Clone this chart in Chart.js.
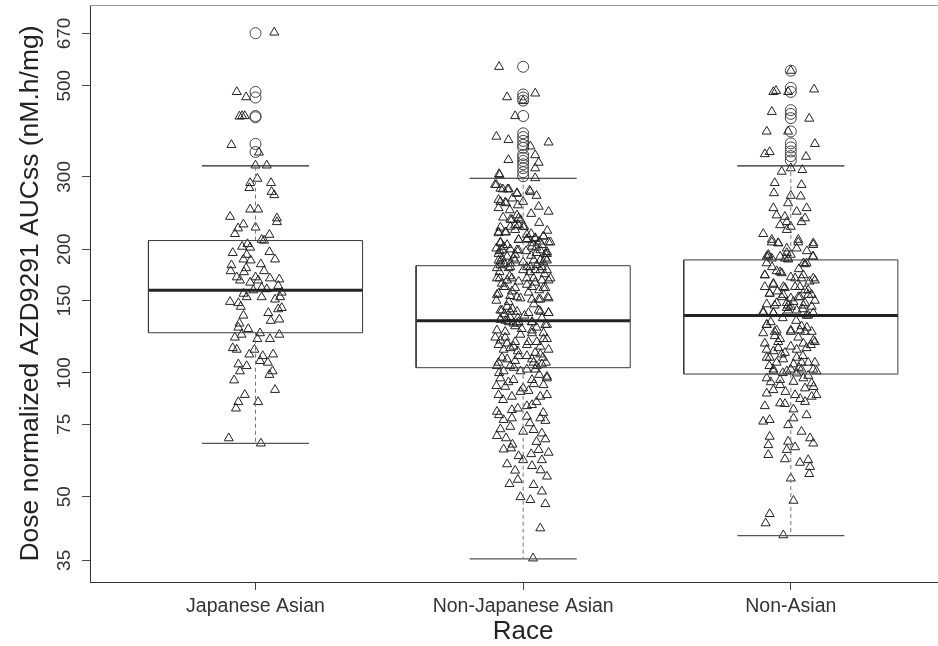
<!DOCTYPE html>
<html>
<head>
<meta charset="utf-8">
<title>AZD9291 AUCss by race</title>
<script src="https://cdn.jsdelivr.net/npm/chart.js@4.4.1/dist/chart.umd.min.js"></script>
<style>
  html, body { margin: 0; padding: 0; background: #ffffff; overflow: hidden; }
  #wrap { width: 938px; height: 646px; overflow: hidden; }
</style>
</head>
<body>
<div id="wrap"><canvas id="chart" width="938" height="646"></canvas></div>
<script>
// Groups on the x axis
const categories = ['Japanese Asian', 'Non-Japanese Asian', 'Non-Asian'];
// Log-axis tick values
const yTickValues = [35, 50, 75, 100, 150, 200, 300, 500, 670];

// Box-and-whisker summary per group (nM.h/mg)
const lowerWhisker = [67.4, 35.3, 40.2];
const quartile1    = [125.3, 103.0, 99.4];
const medians      = [158.9, 134.0, 137.9];
const quartile3    = [210.0, 182.4, 188.4];
const upperWhisker = [319.0, 297.7, 319.0];

// Values beyond the whiskers
const outliers = [
  [671, 483, 468, 422, 419, 361, 345],
  [556, 476, 468, 460, 422, 383, 375, 367, 359, 353, 339, 334, 328, 322, 315, 308, 301],
  [544, 494, 483, 436, 427, 417, 387, 362, 354, 346, 337, 329]
];

// Individual patients: [dose normalized AUCss, horizontal jitter]
const japaneseAsian = [
  [674,0.07],[483,-0.07],[469,-0.035],[421,-0.06],[422,-0.05],[422,-0.04],[359,-0.09],[344,0.013],[320,0],[320,0.042],
  [297,0.007],[290,-0.02],[290,0.058],[282,-0.023],[276,0.06],[271,0.07],[250,-0.02],[250,0.01],[240,-0.095],[238,0.08],
  [233,0.08],[230,-0.045],[225,-0.065],[226,0],[218,-0.077],[217,0.052],[211,0.023],[210,0.032],[206,-0.03],[203,-0.05],
  [202,-0.02],[196,-0.085],[197,0.052],[194,-0.033],[189,0.073],[189,-0.045],[188,-0.018],[183,-0.09],[184,0.02],[180,-0.035],
  [177,-0.093],[177,0.032],[176,-0.043],[171,-0.07],[171,0],[170,0.054],[169,0.089],[168,-0.058],[168,0.01],[166,-0.02],
  [163,0.085],[161,0.023],[160,0.042],[159,-0.008],[156,-0.045],[157,0.098],[153,-0.033],[153,0.023],[153,0.092],[149,-0.095],
  [148,-0.064],[151,0.073],[145,-0.055],[140,0.048],[143,0.085],[144,0.098],[138,-0.045],[134,0.057],[135,0.089],[132,-0.06],
  [129,-0.064],[128,-0.027],[124,0.089],[125,0.017],[122,-0.077],[124,-0.052],[121,0.054],[121,0.007],[115,-0.085],[114,-0.07],
  [114,-0.004],[111,-0.023],[110,0.027],[111,0.066],[106,0.046],[107,0.017],[105,-0.064],[104,-0.033],[101,0.064],[99,0.052],
  [101,-0.058],[96,-0.08],[91,0.073],[88.5,-0.04],[85,-0.064],[85,0.01],[82,-0.073],[69.4,-0.1],[67.4,0.02]
];

const nonJapaneseAsian = [
  [556,-0.09],[469,-0.06],[479,0.045],[459,0],[422,-0.03],[376,-0.1],[369,-0.055],[364,0.095],[356,0.027],[339,0.045],
  [330,-0.055],[325,0.058],[315,0.045],[305,-0.09],[298,0.045],[287,-0.105],[281,-0.085],[280,-0.058],[278,0.024],[273,-0.023],
  [264,-0.092],[259,-0.064],[252,-0.092],[261,0],[254,0.058],[247,0.095],[242,-0.023],[236,-0.042],[236,-0.01],[229,-0.017],
  [227,-0.048],[227,0],[219,-0.092],[220,-0.064],[223,-0.03],[217,0.014],[208,-0.085],[211,-0.017],[211,0.014],[212,0.045],
  [215,0.076],[208,0.095],[203,-0.073],[198,-0.088],[200,-0.048],[199,-0.017],[203,0.033],[199,0.064],[195,0.089],[190,-0.079],
  [188,-0.03],[188,0.04],[190,0.083],[183,-0.085],[181,-0.048],[181,0.014],[181,0.07],
  [195,-0.092],[194,-0.03],[195,0.083],[187,-0.085],[185,-0.048],[183,0.051],[188,0.089],[176,-0.088],[178,0],[178,0.064],
  [170,-0.098],[168,-0.06],[167,-0.017],[170,0.039],[168,0.095],[162,-0.073],[164,0.014],[161,0.076],[156,-0.092],[158,-0.042],
  [153,-0.023],[151,0.033],[151,0.064],[152,0.095],[149,-0.054],[142,-0.085],[141,-0.023],[142,0.058],[140,0.095],[135,-0.085],
  [133,-0.054],[132,-0.023],[133,0.033],[131,0.089],[127,-0.098],[126,-0.067],[127,0.033],[125,0.076],[120,-0.085],[119,-0.03],
  [119,0.051],[121,0.089],[115,-0.048],[114,-0.073],[110,0.014],[111,0.064],[106,-0.092],[107,-0.03],[106,0.039],[105,0.07],
  [101,-0.073],[101,-0.01],[102,0.045],[97.1,-0.085],[96.2,-0.036],[96.2,0.033],[97.1,0.089],[92.6,-0.067],[91.8,0],[93.5,0.076],
  [88.4,-0.092],[87.6,-0.042],[90,-0.01],[87.6,0.064],[88.4,0.089],[83.1,0.014],[83.6,0.033],[80.5,-0.098],[81.3,-0.042],[78.3,0.014],
  [76.9,-0.073],[77.6,-0.042],[77.6,0.064],[76.5,0.083],[74,-0.048],[72,0],[72.7,0.039],[71.3,0.07],[70.3,-0.098],[69.4,-0.064],
  [69,0.083],[65.2,-0.073],[65.6,-0.045],[62.8,-0.017],[61.4,0],[65,0.058],[64,0.095],[61.4,0.07],[59.4,0.033],[57.9,-0.03],
  [56,0.089],[53.7,-0.051],[53.4,0.039],[49.9,-0.01],[49.1,0.027],[48,0.083],[41.9,0.064],[35.4,0.037],
  [303,-0.088],[287,-0.1],[280,-0.076],[280,-0.054],[274,-0.023],[276,0.027],[261,-0.085],[260,-0.067],[236,-0.048],[238,-0.017],
  [229,-0.03],[227,0.004],[220,-0.092],[220,-0.067],[211,-0.017],[212,0.014],[213,0.045],[215,0.076],[208,0.102],[207,-0.085],
  [205,0.07],[207,0.033],[199,-0.079],[199,-0.023],[198,0.011],[202,0.049],[197,0.089],[188,-0.092],[190,-0.036],[186,0],
  [188,0.064],[180,-0.098],[180,-0.054],[181,0.027],[178,0.045],[178,0.089],[170,-0.088],[170,-0.042],[170,0.014],[168,0.07],
  [170,0.102],[162,-0.067],[161,-0.03],[162,0.033],[161,0.083],[155,-0.098],[154,-0.048],[152,-0.01],[151,0.058],[153,0.092],
  [142,-0.079],[141,-0.048],[140,0.02],[141,0.064],[140,0.095],[135,-0.085],[132,-0.036],[133,-0.017],[133,0.033],[131,0.083],
  [122,-0.104],[122,-0.067],[124,-0.01],[125,0.033],[121,0.076],[117,-0.092],[116,-0.036],[117,0.014],[116,0.064],[114,0.095],
  [109,-0.079],[110,-0.017],[108,0.033],[109,0.074],[104,-0.098],[104,-0.048],[102,0.014],[104,0.051],[98,0.089],
  [145,-0.06],[143,-0.04],[139,-0.07],[137,-0.05],[136,-0.02],[138,0.005],[134,-0.065],[130,-0.03],[128,-0.005],[129,0.05],
  [136,0.07],[147,0.04],[150,-0.1],[157,0.02],[159,0.06],[165,-0.08],[166,0.045],[172,-0.05],[174,0.08],[176,0.025],
  [184,-0.07],[186,0.075],[192,-0.06],[193,0.03],[196,0.05],[201,-0.1],[205,-0.06],[209,0.06],[218,0.03],[222,0.09],
  [226,-0.085],[232,0.06],[239,-0.075],[244,0.03],[249,-0.05],[256,-0.02],[266,-0.04],[270,0.05],[118,-0.06],[119,0.02],
  [113,-0.02],[112,0.045],[108,-0.06],[106,0.085],[103,-0.035],[100,-0.09],[99,0.06],[95,-0.055],[94,0.04],[93,-0.1],
  [90.5,0.02],[86,-0.075],[85,0.05],[82,-0.02],[80,0.075],[79,-0.09],[75.5,0.025],[73,-0.085],[68,0.05],[67,-0.04],
  [63.5,0.03],[60,-0.06],[58,0.065],[55,-0.02],[51.5,0.07]
];

const nonAsian = [
  [544,0],[483,-0.065],[486,-0.055],[483,-0.01],[490,0.087],[432,-0.071],[416,0.069],[387,-0.09],[387,-0.01],[361,0.09],
  [341,-0.097],[345,-0.079],[336,0.057],[309,-0.034],[312,0.043],[315,0],[290,-0.06],[287,0.04],[274,-0.063],[270,0],
  [269,0.037],[259,-0.01],[252,-0.065],[247,0.022],[252,0.059],[242,-0.053],[240,-0.022],[238,0.053],[233,-0.015],[229,-0.04],
  [227,0],[233,0.04],[218,-0.103],[208,-0.071],[207,-0.047],[208,0.028],[207,0.084],[223,-0.015],[192,-0.09],[190,-0.071],
  [192,-0.04],[190,-0.022],[194,0],[185,0.047],[192,0.084],
  [194,-0.084],[196,-0.015],[192,0.082],[185,-0.09],[189,-0.01],[184,0.053],[173,-0.097],[177,-0.053],[175,-0.034],[170,0.016],
  [173,0.047],[168,0.09],[162,-0.097],[165,-0.065],[161,-0.022],[162,0.034],[159,0.065],[156,-0.079],[155,-0.028],[153,0.028],
  [155,0.078],[148,-0.053],[146,-0.01],[149,0.01],[148,0.053],[141,-0.103],[140,-0.065],[144,-0.015],[142,0.022],[138,0.059],
  [140,0.084],[131,-0.09],[127,-0.053],[127,0],[130,0.04],[126,0.053],[125,-0.103],[121,-0.04],[122,0.028],[120,0.084],
  [114,-0.09],[115,-0.047],[112,-0.022],[114,0.022],[115,0.059],[109,-0.09],[106,-0.053],[108,-0.028],[105,0.01],[106,0.04],
  [106,0.09],[101,-0.065],[102,0],[99.8,0.022],[102,0.084],[97.1,-0.09],[96.2,-0.04],[95.2,0.01],[97.1,0.047],[94.4,0.078],
  [90.9,-0.065],[93.5,-0.04],[88.4,0.016],[91.8,0.053],[88.4,0.096],[89.2,-0.09],[87.6,0.078],[85.1,0.053],[83.1,-0.097],[84.4,-0.04],
  [84.1,-0.022],[81.6,0.01],[79,0.059],[76.2,-0.103],[76.9,-0.079],[74.7,-0.01],[77.6,0.01],[72,0.04],[69.4,0.072],[67.4,0.084],
  [70,-0.079],[66.8,-0.084],[68.1,-0.01],[66,0.016],[63.2,-0.084],[65,-0.015],[61.7,-0.022],[60.5,0.034],[61.4,0.065],[59.1,0.072],
  [56.8,0.069],[55.4,0],[48.9,0.01],[45.4,-0.079],[43.1,-0.094],[40.3,-0.028],
  [211,-0.071],[207,-0.047],[211,0.028],[205,0.084],[201,-0.015],[201,0.022],[192,-0.084],[190,-0.01],[185,0.059],[173,-0.097],
  [176,-0.04],[171,0],[170,0.04],[170,0.084],[164,-0.065],[162,-0.028],[162,0.016],[159,0.053],[156,-0.079],[153,-0.034],
  [152,0],[153,0.034],[155,0.065],[146,-0.06],[148,-0.015],[145,0],[146,0.047],[145,0.078],[140,-0.103],[140,-0.065],
  [142,-0.01],[138,0.065],[131,-0.09],[126,-0.06],[126,0],[127,0.034],[126,0.078],[118,-0.097],[119,-0.047],[116,0],
  [118,0.047],[119,0.09],[109,-0.079],[111,-0.034],[109,0.022],[106,0.065],[102,-0.065],[101,-0.015],[102,0.04],[101,0.096],
  [198,0.06],[181,-0.07],[179,0.03],[167,0.07],[158,-0.05],[150,0.09],[147,-0.09],[143,0.045],[136,-0.03],[134,0.02],
  [133,-0.075],[129,0.06],[123,-0.06],[117,0.075],[113,-0.065],[110,0.045],[104,-0.08],[103,0.03],[100,-0.03],[98.5,0.065],
  [95,-0.075],[92.5,0.085],[90,-0.02],[86.5,0.035]
];

const groups = [japaneseAsian, nonJapaneseAsian, nonAsian];
const xAxisTitle = 'Race';
const yAxisTitle = 'Dose normalized AZD9291 AUCss (nM.h/mg)';

const FONT = '"Liberation Sans", Arial, Helvetica, sans-serif';
const INK = '#222222';
// horizontal scale: pixels per category step, and room left of the first category
const CATEGORY_STEP_PX = 267.65;
const FIRST_CATEGORY_OFFSET_PX = 165.5;

function segment(x1, y1, x2, y2, style) {
  return Object.assign({
    type: 'scatter',
    data: [{ x: x1, y: y1 }, { x: x2, y: y2 }],
    showLine: true,
    pointRadius: 0,
    fill: false,
    tension: 0,
    order: 1
  }, style);
}

const datasets = [];
groups.forEach((points, g) => {
  const cx = g + 1;
  // jittered observations (open triangles)
  datasets.push({
    type: 'scatter',
    label: categories[g],
    data: points.map(([v, j]) => ({ x: cx + j, y: v })),
    pointStyle: 'triangle',
    pointRadius: 5.2,
    borderColor: INK,
    borderWidth: 1,
    backgroundColor: 'rgba(0,0,0,0)',
    order: 2
  });
  // boxplot outliers (open circles)
  datasets.push({
    type: 'scatter',
    data: outliers[g].map(v => ({ x: cx, y: v })),
    pointStyle: 'circle',
    pointRadius: 5.5,
    borderColor: '#444444',
    borderWidth: 1,
    backgroundColor: 'rgba(0,0,0,0)',
    order: 2
  });
  // box outline
  datasets.push({
    type: 'scatter',
    data: [
      { x: cx - 0.4, y: quartile1[g] }, { x: cx + 0.4, y: quartile1[g] },
      { x: cx + 0.4, y: quartile3[g] }, { x: cx - 0.4, y: quartile3[g] },
      { x: cx - 0.4, y: quartile1[g] }
    ],
    showLine: true, pointRadius: 0, fill: false, tension: 0,
    borderColor: '#3a3a3a', borderWidth: 1, order: 1
  });
  // median
  datasets.push(segment(cx - 0.4, medians[g], cx + 0.4, medians[g], { borderColor: '#222222', borderWidth: 3 }));
  // whiskers
  const dashed = { borderColor: '#777777', borderWidth: 1, borderDash: [4, 3] };
  datasets.push(segment(cx, quartile3[g], cx, upperWhisker[g], dashed));
  datasets.push(segment(cx, quartile1[g], cx, lowerWhisker[g], dashed));
  // whisker caps
  const cap = { borderColor: '#222222', borderWidth: 1.2 };
  datasets.push(segment(cx - 0.2, upperWhisker[g], cx + 0.2, upperWhisker[g], cap));
  datasets.push(segment(cx - 0.2, lowerWhisker[g], cx + 0.2, lowerWhisker[g], Object.assign({}, cap, { borderColor: '#555555' })));
});

// top edge of the plot frame, and the x-axis title centred on the middle group
const frameAndTitle = {
  id: 'frameAndTitle',
  afterDraw(chart) {
    const { ctx, chartArea: a } = chart;
    const xs = chart.scales.x;
    ctx.save();
    ctx.strokeStyle = '#999999';
    ctx.lineWidth = 1;
    ctx.beginPath();
    const y = Math.round(a.top) + 0.5;
    ctx.moveTo(a.left, y);
    ctx.lineTo(chart.width, y);
    ctx.stroke();

    ctx.fillStyle = INK;
    ctx.font = '26px ' + FONT;
    ctx.textAlign = 'center';
    ctx.textBaseline = 'middle';
    ctx.fillText(xAxisTitle, xs.getPixelForValue(2), 632);
    ctx.restore();
  }
};

new Chart(document.getElementById('chart'), {
  type: 'scatter',
  data: { datasets },
  plugins: [frameAndTitle],
  options: {
    responsive: false,
    animation: false,
    events: [],
    layout: { autoPadding: false, padding: { top: 5, right: 0, bottom: 0, left: 0 } },
    plugins: { legend: { display: false }, tooltip: { enabled: false } },
    scales: {
      x: {
        type: 'linear',
        bounds: 'data',
        min: 0.38,
        max: 3.55,
        // the plot region runs past the right edge; keep a fixed step per category
        afterDataLimits: s => {
          s.min = 1 - FIRST_CATEGORY_OFFSET_PX / CATEGORY_STEP_PX;
          s.max = s.min + s.width / CATEGORY_STEP_PX;
        },
        afterBuildTicks: s => { s.ticks = categories.map((c, i) => ({ value: i + 1 })); },
        afterFit: s => { s.height = 64; s.paddingLeft = 0; s.paddingRight = 0; },
        ticks: {
          autoSkip: false, maxRotation: 0, padding: 5, color: '#333333',
          font: { family: FONT, size: 19.5 },
          callback: v => categories[Math.round(v) - 1]
        },
        grid: { drawOnChartArea: false, tickLength: 8, color: '#444444' },
        border: { color: '#333333', width: 1 },
        title: { display: false }
      },
      y: {
        type: 'logarithmic',
        min: 31,
        max: 786,
        afterBuildTicks: s => { s.ticks = yTickValues.map(v => ({ value: v })); },
        afterFit: s => { s.width = 90; s.paddingTop = 0; s.paddingBottom = 0; },
        ticks: {
          autoSkip: false, minRotation: 90, maxRotation: 90, crossAlign: 'center',
          padding: 1, color: '#333333',
          font: { family: FONT, size: 19 },
          callback: v => String(v)
        },
        grid: { drawOnChartArea: false, tickLength: 8, color: '#444444' },
        border: { color: '#333333', width: 1 },
        title: {
          display: true, text: yAxisTitle, color: INK,
          font: { family: FONT, size: 26.5, lineHeight: 1 },
          padding: { top: 17, bottom: 0 }
        }
      }
    }
  }
});
</script>
</body>
</html>
